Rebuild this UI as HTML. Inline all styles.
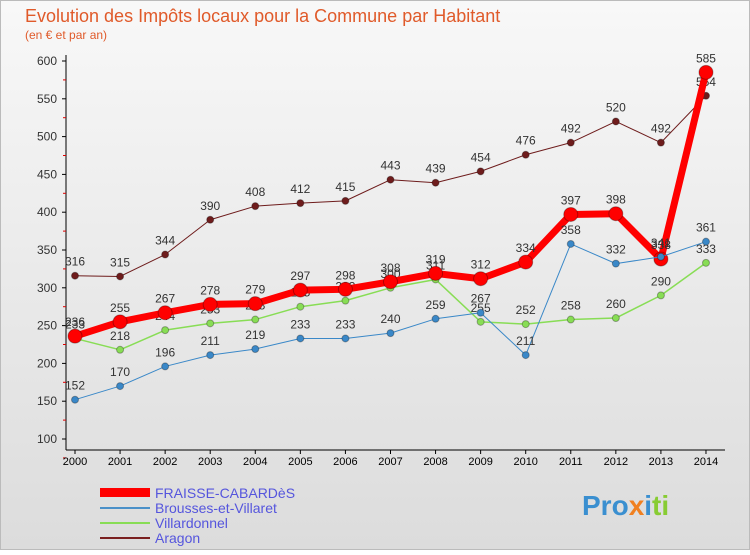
<!DOCTYPE html>
<html><head><meta charset="utf-8"><style>
body{margin:0;background:#fff;font-family:"Liberation Sans",sans-serif}
svg text{font-family:"Liberation Sans",sans-serif}
</style></head><body>
<svg id="c" width="750" height="550">
<defs><linearGradient id="bg" x1="0" y1="0" x2="0" y2="1"><stop offset="0" stop-color="#f8f8f8"/><stop offset="1" stop-color="#dcdcdc"/></linearGradient></defs>
<rect x="0.5" y="0.5" width="749" height="549" fill="url(#bg)" stroke="#bbb"/>
<text x="25" y="22" font-size="18" fill="#e05a2a">Evolution des Impôts locaux pour la Commune par Habitant</text>
<text x="25" y="39" font-size="12" fill="#e05a2a">(en € et par an)</text>
<g id="axes"></g><g id="series"></g>
<g>
<rect x="100" y="488" width="50" height="9" fill="#f00"/>
<text x="155" y="498" font-size="14" fill="#5555dd">FRAISSE-CABARDèS</text>
<line x1="100" y1="508" x2="150" y2="508" stroke="#4a90c8" stroke-width="2"/>
<text x="155" y="513" font-size="14" fill="#5555dd">Brousses-et-Villaret</text>
<line x1="100" y1="523" x2="150" y2="523" stroke="#88dd55" stroke-width="2"/>
<text x="155" y="528" font-size="14" fill="#5555dd">Villardonnel</text>
<line x1="100" y1="538" x2="150" y2="538" stroke="#7a2020" stroke-width="2"/>
<text x="155" y="543" font-size="14" fill="#5555dd">Aragon</text>
</g>
<text x="582" y="515" font-size="28" font-weight="bold"><tspan fill="#3a8fd0">Pro</tspan><tspan fill="#f08020">x</tspan><tspan fill="#3a8fd0">i</tspan><tspan fill="#88cc33">ti</tspan></text>
</svg>
<script>
const years=[2000,2001,2002,2003,2004,2005,2006,2007,2008,2009,2010,2011,2012,2013,2014];
const yTicks=[100,150,200,250,300,350,400,450,500,550,600];
const fraisse=[236,255,267,278,279,297,298,308,319,312,334,397,398,338,585];
const brousses=[152,170,196,211,219,233,233,240,259,267,211,358,332,341,361];
const villardonnel=[233,218,244,253,258,275,283,300,311,255,252,258,260,290,333];
const aragon=[316,315,344,390,408,412,415,443,439,454,476,492,520,492,554];
const NS="http://www.w3.org/2000/svg";
const xS=i=>75+i*45.07, yS=v=>439-(v-100)*0.756;
function mk(p,t,a){const e=document.createElementNS(NS,t);for(const k in a)e.setAttribute(k,a[k]);p.appendChild(e);return e;}
const ax=document.getElementById('axes');
let l=mk(ax,'line',{x1:66,y1:55,x2:66,y2:450,stroke:'#000'});

l=mk(ax,'line',{x1:66,y1:450,x2:725,y2:450,stroke:'#000'});

yTicks.forEach(v=>{const y=yS(v);
mk(ax,'line',{x1:62,y1:y,x2:66,y2:y,stroke:'#000'});
mk(ax,'line',{x1:63,y1:y+18.9,x2:66,y2:y+18.9,stroke:'#d00'});
const t=mk(ax,'text',{x:57,y:y+4,'font-size':12,'text-anchor':'end',fill:'#333'});t.textContent=v;
});
years.forEach((yr,i)=>{const x=xS(i);
mk(ax,'line',{x1:x,y1:450,x2:x,y2:454,stroke:'#000'});
const t=mk(ax,'text',{x:x,y:465,'font-size':11,'text-anchor':'middle',fill:'#000'});t.textContent=yr;
});
const sg=document.getElementById('series');
function draw(name,data,col,w,r){
const g=mk(sg,'g',{});

const pl=mk(g,'polyline',{points:data.map((v,i)=>xS(i)+','+yS(v)).join(' '),fill:'none',stroke:col,'stroke-width':w,'stroke-linejoin':'round'});

data.forEach((v,i)=>{const c=mk(g,'circle',{cx:xS(i),cy:yS(v),r:r,fill:col,stroke:'rgba(0,0,0,0.3)'});

const t=mk(g,'text',{x:xS(i),y:yS(v)-10,'font-size':12,'text-anchor':'middle',fill:'#333'});t.textContent=v;
});}
draw('aragon',aragon,'#6e1c1c',1,3.5);
draw('villardonnel',villardonnel,'#88dd55',1.5,3.5);
draw('fraisse',fraisse,'#f00',7,7);
draw('brousses',brousses,'#3a88c8',1,3.5);
</script>
</body></html>
